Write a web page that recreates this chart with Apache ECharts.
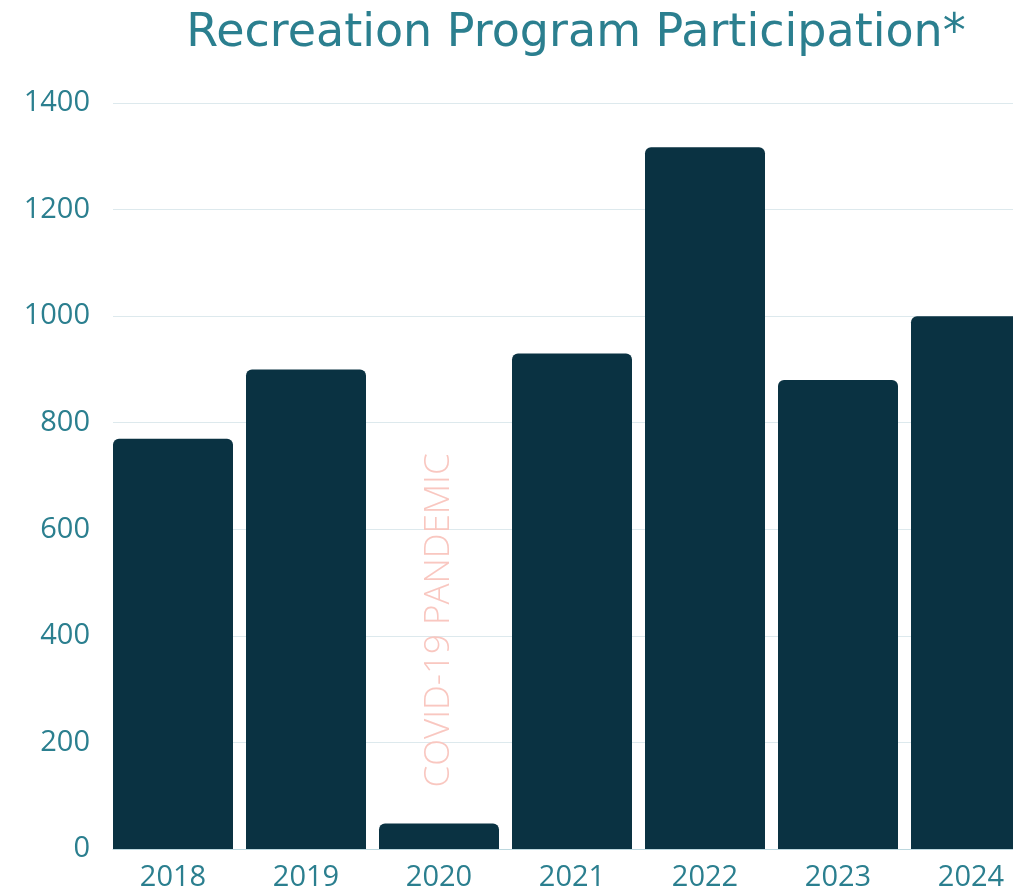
<!DOCTYPE html>
<html>
<head>
<meta charset="utf-8">
<script src="https://cdn.jsdelivr.net/npm/echarts@6/dist/echarts.min.js"></script>
<style>
html,body{margin:0;padding:0;background:#fff;}
#chart{width:1013px;height:892px;}
</style>
</head>
<body>
<div id="chart"></div>
<script>
const titleText = 'Recreation Program Participation*';
const years = ['2018', '2019', '2020', '2021', '2022', '2023', '2024'];
const participants = [770, 900, 48, 930, 1317, 880, 1000];
const annotationYear = '2020';
const annotationText = 'COVID-19 PANDEMIC';
const yMin = 0, yMax = 1400, yStep = 200;

const teal = '#2b7f8f';
const navy = '#0a3242';
const font = 'Open Sans';

const chart = echarts.init(document.getElementById('chart'), null, {renderer: 'canvas'});

const seriesData = participants.map((v, i) => {
  if (years[i] === annotationYear) {
    return {
      value: v,
      label: {
        show: true,
        formatter: annotationText,
        position: 'top',
        rotate: 90,
        align: 'left',
        verticalAlign: 'middle',
        distance: 36,
        color: '#f9c7c0',
        fontFamily: font,
        fontWeight: 300,
        fontSize: 35
      }
    };
  }
  return v;
});

chart.setOption({
  animation: false,
  backgroundColor: '#ffffff',
  title: {
    text: titleText,
    left: 571,
    textAlign: 'center',
    top: 6,
    textStyle: {color: teal, fontFamily: 'DejaVu Sans', fontWeight: 400, fontSize: 46}
  },
  grid: [
    {left: 106.5, width: 931, top: 103, bottom: 43, outerBoundsMode: 'none', containLabel: false},
    {left: 113, right: 0, top: 103, bottom: 43, outerBoundsMode: 'none', containLabel: false}
  ],
  xAxis: [
    {
      type: 'category', gridIndex: 0, data: years,
      axisLine: {show: false}, axisTick: {show: false},
      axisLabel: {color: teal, fontFamily: font, fontSize: 29, margin: 14}
    },
    {
      type: 'category', gridIndex: 1, data: years,
      axisLine: {show: true, lineStyle: {color: '#bcd7de', width: 1}},
      axisTick: {show: false}, axisLabel: {show: false}
    }
  ],
  yAxis: [
    {
      type: 'value', gridIndex: 0, min: yMin, max: yMax, interval: yStep,
      axisLabel: {show: false}, splitLine: {show: false},
      axisLine: {show: false}, axisTick: {show: false}
    },
    {
      type: 'value', gridIndex: 1, min: yMin, max: yMax, interval: yStep,
      axisLine: {show: false}, axisTick: {show: false},
      axisLabel: {color: teal, fontFamily: font, fontSize: 29, margin: 23, padding: [4, 0, 0, 0], formatter: v => String(v)},
      splitLine: {show: true, lineStyle: {color: '#dde9ed', width: 1}}
    }
  ],
  series: [
    {
      type: 'bar', xAxisIndex: 0, yAxisIndex: 0,
      data: seriesData,
      barWidth: 120,
      itemStyle: {color: navy, borderRadius: [6, 6, 0, 0]},
      z: 3
    }
  ]
});
</script>
</body>
</html>
